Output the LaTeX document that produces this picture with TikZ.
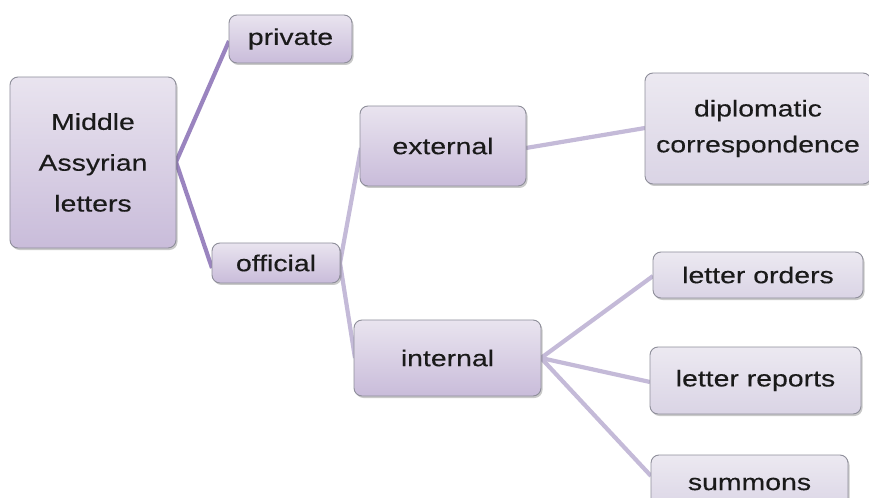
\documentclass[tikz,border=0pt]{standalone}
\usepackage{fontspec}
\setmainfont{Liberation Sans}[FakeStretch=1.24, FakeBold=0.3]
\usepackage{tikz}
\usetikzlibrary{shapes,shadows}
\usetikzlibrary{calc}

\definecolor{boxline}{HTML}{8E8E9A}
\definecolor{boxtop}{HTML}{E9E4EF}
\definecolor{boxbot}{HTML}{C9BCDA}
\definecolor{leaftop}{HTML}{ECE9F1}
\definecolor{leafbot}{HTML}{DAD4E5}
\definecolor{darklink}{HTML}{9A84BF}
\definecolor{lightlink}{HTML}{C4BAD8}
\definecolor{txt}{HTML}{1A1A1A}

\tikzset{
  box/.style={draw=boxline, line width=0.9bp, rounded corners=8bp,
    top color=boxtop, bottom color=boxbot, text=txt, align=center,
    font=\fontsize{23}{41}\selectfont,
    drop shadow={shadow xshift=1.5bp, shadow yshift=-2bp, opacity=.3, fill=black!70}},
  leaf/.style={box, top color=leaftop, bottom color=leafbot},
  link/.style={line width=4.2bp, lightlink},
  rootlink/.style={line width=4.2bp, darklink}
}

\begin{document}
\begin{tikzpicture}[x=1bp, y=-1bp]
\useasboundingbox (0,0) rectangle (869,498);

% branches
\draw[rootlink] (176,162) -- (229,41);
\draw[rootlink] (176,162) -- (212,268);
\draw[link] (340,263) -- (361,148);
\draw[link] (340,263) -- (355,358);
\draw[link] (526,148) -- (645,128);
\draw[link] (541,358) -- (653,276);
\draw[link] (541,358) -- (650,382);
\draw[link] (541,358) -- (651,476);

% boxes
\node[box, minimum width=166bp, minimum height=171bp] (root) at (93,162.5) {Middle\\Assyrian\\letters};
\node[box, minimum width=123bp, minimum height=48bp] (private) at (290.5,39) {private};
\node[box, minimum width=128bp, minimum height=40bp] (official) at (276,263) {official};
\node[box, minimum width=166bp, minimum height=80bp] (external) at (443,146) {external};
\node[box, minimum width=187bp, minimum height=76bp] (internal) at (447.5,358) {internal};
\node[leaf, minimum width=226bp, minimum height=111bp, font=\fontsize{23}{36}\selectfont] (diplo) at (758,128.5) {diplomatic\\correspondence};
\node[leaf, minimum width=210bp, minimum height=46bp] (orders) at (758,275) {letter orders};
\node[leaf, minimum width=211bp, minimum height=67bp] (reports) at (755.5,380.5) {letter reports};
\node[leaf, minimum width=197bp, minimum height=58bp] (summons) at (749.5,484) {summons};

\end{tikzpicture}
\end{document}
